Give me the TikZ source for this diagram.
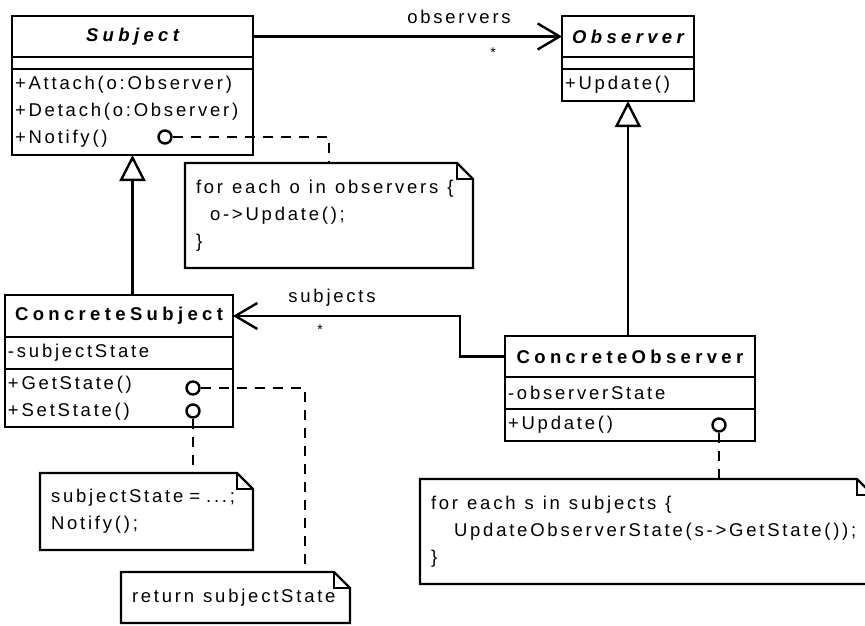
\documentclass[tikz,border=0pt]{standalone}
\usepackage{fontspec}
\setmainfont{Liberation Sans}[LetterSpace=15]
\newfontfamily\titlefont{Liberation Sans}[LetterSpace=23.5]
\usetikzlibrary{arrows.meta,positioning}

\newcommand{\umlsize}{\fontsize{18.5}{27}\selectfont}
\newcommand{\dogear}[1]{%
  \draw[link,line join=miter] (#1.north west) -- ([xshift=-16pt]#1.north east) -- ([yshift=-16pt]#1.north east) -- (#1.south east) -- (#1.south west) -- cycle;
  \draw[line width=1.6pt] ([xshift=-16pt]#1.north east) -- ([xshift=-16pt,yshift=-16pt]#1.north east) -- ([yshift=-16pt]#1.north east);
}

\tikzset{
  part/.style 2 args={draw,line width=2.4pt,outer sep=0pt,inner xsep=3pt,inner ysep=0pt,text width=#1,minimum height=#2,align=left},
  head/.style 2 args={part={#1}{#2},align=center,font=\umlsize\titlefont\bfseries},
  note/.style 2 args={outer sep=0pt,inner xsep=11pt,inner ysep=0pt,text width=#1,minimum height=#2,align=left,
    execute at begin node={\spaceskip=9pt\relax}},
  port/.style={circle,draw,line width=2.4pt,minimum size=13pt,inner sep=0pt,fill=white},
  link/.style={line width=2.4pt},
  dep/.style={line width=2.4pt,dash pattern=on 10pt off 8pt},
  mult/.style={font=\fontsize{14}{14}\selectfont},
}

\begin{document}
\begin{tikzpicture}[x=1pt,y=-1pt,font=\umlsize]
\useasboundingbox (0,0) rectangle (865,626);
% Subject
\node[head={235pt}{41pt}] (subj) at (132.5,36.5) {\itshape Subject};
\node[part={235pt}{12pt},below=0pt of subj] (subjatt) {};
\node[part={235pt}{86pt},below=0pt of subjatt] (subjops) {+Attach(o:Observer)\\+Detach(o:Observer)\\+Notify()};
% Observer
\node[head={126pt}{41pt}] (obs) at (628,36.5) {\itshape Observer};
\node[part={126pt}{12pt},below=0pt of obs] (obsatt) {};
\node[part={126pt}{32pt},below=0pt of obsatt] (obsops) {+Update()};
% ConcreteSubject
\node[head={222pt}{42pt}] (csub) at (119,316) {ConcreteSubject};
\node[part={222pt}{32pt},below=0pt of csub] (csubatt) {-subjectState};
\node[part={222pt}{58pt},below=0pt of csubatt] (csubops) {+GetState()\\+SetState()};
% ConcreteObserver
\node[head={244pt}{41pt}] (cobs) at (630,356.5) {ConcreteObserver};
\node[part={244pt}{32pt},below=0pt of cobs] (cobsatt) {-observerState};
\node[part={244pt}{32pt},below=0pt of cobsatt] (cobsops) {+Update()};
% notes
\node[note={266pt}{105pt}] (eachobs) at (329,215.5) {for each o in observers \{\\\hspace*{14pt}o->Update();\\\}};
\dogear{eachobs}
\node[note={191pt}{77pt}] (setnote) at (146.5,511.5) {\mbox{\spaceskip=6pt subjectState = ...;}\\Notify();};
\dogear{setnote}
\node[note={207pt}{51pt}] (retst) at (235.5,597.5) {return subjectState};
\dogear{retst}
\node[note={431pt}{105pt}] (eachsub) at (646.5,531.5) {for each s in subjects \{\\\hspace*{23pt}UpdateObserverState(s->GetState());\\\}};
\dogear{eachsub}
% ports
\node[port] (notify) at (165,137) {};
\node[port] (getst) at (193,388) {};
\node[port] (setst) at (193,411) {};
\node[port] (upd) at (719,425) {};
% dependencies
\coordinate (notifybend) at (eachobs.north |- notify);
\draw[dep] (notify) -- (notifybend) -- (eachobs.north);
\coordinate (getbend) at (305,388);
\draw[dep] (getst) -- (getbend) -- (getbend |- retst.north);
\draw[dep] (setst) -- (setst |- setnote.north);
\draw[dep] (upd) -- (upd |- eachsub.north);
% associations
\draw[link,-{Straight Barb[length=22pt,width=26pt]}] (subj.east) -- (obs.west);
\node (obslabel) at (459,17) {observers};
\node[mult] (obsmult) at (493,53) {*};
\coordinate (subjbend) at (460,316);
\draw[link,-{Straight Barb[length=22pt,width=26pt]}] (cobs.west) -| (subjbend) -- (csub.east);
\node (sublabel) at (332,298) {subjects};
\node[mult] (submult) at (320,330) {*};
% generalizations
\draw[link,-{Triangle[open,length=26pt,width=26pt]}] (subjops.south |- csub.north) -- (subjops.south);
\draw[link,-{Triangle[open,length=26pt,width=26pt]}] (obsops.south |- cobs.north) -- (obsops.south);
\end{tikzpicture}
\end{document}
